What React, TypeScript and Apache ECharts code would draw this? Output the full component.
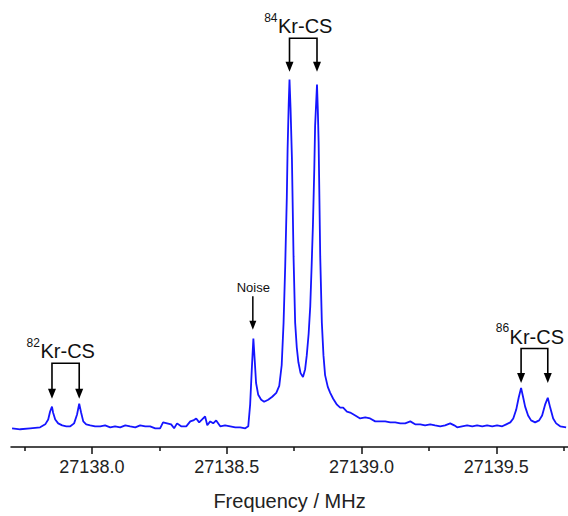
import React, { useEffect, useRef } from "react";
import * as echarts from "echarts";

// Spectrum (frequency in MHz, intensity in arbitrary units)
const freqMHz = [
  27137.704, 27137.734, 27137.771, 27137.808, 27137.827, 27137.838, 27137.845, 27137.852, 27137.856, 27137.864,
  27137.875, 27137.89, 27137.905, 27137.92, 27137.934, 27137.945, 27137.953, 27137.96, 27137.968, 27137.979,
  27137.994, 27138.012, 27138.031, 27138.049, 27138.068, 27138.086, 27138.105, 27138.124, 27138.142, 27138.161,
  27138.179, 27138.198, 27138.216, 27138.235, 27138.253, 27138.264, 27138.279, 27138.294, 27138.305, 27138.316,
  27138.331, 27138.35, 27138.365, 27138.376, 27138.387, 27138.398, 27138.409, 27138.42, 27138.428, 27138.439,
  27138.45, 27138.461, 27138.476, 27138.494, 27138.513, 27138.532, 27138.55, 27138.569, 27138.58, 27138.587,
  27138.593, 27138.599, 27138.604, 27138.609, 27138.617, 27138.628, 27138.639, 27138.654, 27138.669, 27138.684,
  27138.695, 27138.704, 27138.711, 27138.717, 27138.723, 27138.726, 27138.73, 27138.733, 27138.737, 27138.742,
  27138.748, 27138.754, 27138.76, 27138.766, 27138.774, 27138.783, 27138.791, 27138.797, 27138.804, 27138.81,
  27138.815, 27138.82, 27138.825, 27138.828, 27138.835, 27138.838, 27138.841, 27138.847, 27138.853, 27138.859,
  27138.865, 27138.875, 27138.884, 27138.895, 27138.909, 27138.921, 27138.932, 27138.946, 27138.958, 27138.977,
  27138.995, 27139.014, 27139.032, 27139.051, 27139.069, 27139.088, 27139.107, 27139.125, 27139.144, 27139.162,
  27139.181, 27139.199, 27139.218, 27139.236, 27139.255, 27139.273, 27139.292, 27139.31, 27139.329, 27139.344,
  27139.355, 27139.373, 27139.392, 27139.411, 27139.429, 27139.448, 27139.466, 27139.485, 27139.503, 27139.522,
  27139.537, 27139.552, 27139.563, 27139.574, 27139.583, 27139.592, 27139.6, 27139.607, 27139.618, 27139.629,
  27139.644, 27139.659, 27139.67, 27139.681, 27139.691, 27139.7, 27139.711, 27139.722, 27139.737, 27139.759,
];
const intensity = [
  19, 18, 19, 20, 23, 28, 36, 41, 35, 28,
  24, 22, 21, 21, 24, 33, 44, 35, 26, 23,
  22, 21, 21, 22, 20, 21, 20, 22, 21, 20,
  22, 21, 21, 19, 19, 25, 24, 23, 19, 24,
  21, 21, 26, 27, 29, 25, 28, 31, 22, 26,
  24, 27, 21, 22, 21, 20, 20, 19, 21, 43,
  78, 110, 88, 65, 53, 48, 46, 48, 51, 55,
  62, 83, 126, 183, 253, 303, 348, 373, 343, 293,
  193, 126, 101, 86, 75, 71, 79, 93, 115, 143,
  183, 226, 283, 326, 368, 343, 310, 193, 126, 93,
  73, 61, 55, 49, 43, 40, 40, 36, 35, 32,
  29, 30, 29, 26, 26, 26, 25, 25, 24, 24,
  26, 23, 23, 22, 23, 22, 21, 22, 24, 22,
  20, 21, 22, 21, 22, 21, 22, 21, 22, 21,
  23, 25, 29, 38, 50, 60, 50, 41, 32, 27,
  25, 27, 32, 43, 50, 40, 29, 24, 21, 20,
];

const xMin = 27137.7;
const xMax = 27139.766;
const majorTicks = [27138.0, 27138.5, 27139.0, 27139.5];
const minorTicks = [27137.75, 27138.25, 27138.75, 27139.25, 27139.75];

// Isotopologue doublet annotations
const groupMass = ["82", "84", "86"];
const groupName = ["Kr-CS", "Kr-CS", "Kr-CS"];
const groupLeftPeak = [27137.852, 27138.733, 27139.592];
const groupRightPeak = [27137.953, 27138.835, 27139.691];
const groupBracketLevel = [85, 415, 100];
const groupArrowTipLevel = [49, 381, 65];

// Noise annotation
const noiseLabel = "Noise";
const noiseFreq = 27138.597;
const noiseShaftTopLevel = 153;
const noiseArrowTipLevel = 119;

const FONT = "'Liberation Sans', Arial, Helvetica, sans-serif";

export default function App() {
  const ref = useRef<HTMLDivElement>(null);

  useEffect(() => {
    if (!ref.current) return;
    const chart = echarts.init(ref.current, null, { renderer: "svg" });
    const axisColor = "#111";
    chart.setOption({
      animation: false,
      grid: { left: 11, right: 0, top: 53, bottom: 63 },
      xAxis: [
        {
          type: "value",
          min: xMin,
          max: xMax,
          name: "Frequency / MHz",
          nameLocation: "middle",
          nameGap: 44,
          nameTextStyle: { fontSize: 20, color: "#222", fontFamily: FONT },
          axisLine: { show: true, onZero: false, lineStyle: { color: axisColor, width: 1.5 } },
          axisTick: { show: true, length: 7, customValues: majorTicks, lineStyle: { color: axisColor, width: 1.5 } },
          axisLabel: {
            customValues: majorTicks,
            formatter: (v: number) => v.toFixed(1),
            fontSize: 18,
            color: "#222",
            margin: 11,
            fontFamily: FONT,
          },
          splitLine: { show: false },
        },
        {
          type: "value",
          min: xMin,
          max: xMax,
          position: "bottom",
          axisLine: { show: false },
          axisTick: { show: true, length: 4, customValues: minorTicks, lineStyle: { color: axisColor, width: 1.5 } },
          axisLabel: { show: false },
          splitLine: { show: false },
        },
      ],
      yAxis: { type: "value", min: 0, max: 400, show: false },
      series: [
        {
          type: "line",
          xAxisIndex: 0,
          data: freqMHz.map((f, i) => [f, intensity[i]]),
          showSymbol: false,
          clip: false,
          lineStyle: { color: "#1515ff", width: 1.8 },
        },
      ],
    });

    const px = (f: number, v: number) =>
      chart.convertToPixel({ xAxisIndex: 0, yAxisIndex: 0 }, [f, v]) as number[];

    const elements: any[] = [];
    const black = "#000";
    const arrowH = 10;
    const arrowHalfW = 4;
    const arrowHead = (x: number, tipY: number, h: number, hw: number) => ({
      type: "polygon",
      shape: { points: [[x - hw, tipY - h], [x + hw, tipY - h], [x, tipY]] },
      style: { fill: black },
      silent: true,
    });

    groupMass.forEach((mass, i) => {
      const l = px(groupLeftPeak[i], groupBracketLevel[i]);
      const r = px(groupRightPeak[i], groupBracketLevel[i]);
      const lt = px(groupLeftPeak[i], groupArrowTipLevel[i]);
      const rt = px(groupRightPeak[i], groupArrowTipLevel[i]);
      elements.push({
        type: "polyline",
        shape: { points: [[l[0], lt[1] - arrowH + 1], [l[0], l[1]], [r[0], r[1]], [r[0], rt[1] - arrowH + 1]] },
        style: { stroke: black, lineWidth: 1.6, fill: null },
        silent: true,
      });
      elements.push(arrowHead(l[0], lt[1], arrowH, arrowHalfW));
      elements.push(arrowHead(r[0], rt[1], arrowH, arrowHalfW));
      elements.push({
        type: "text",
        silent: true,
        style: {
          text: mass,
          x: l[0] - 12,
          y: l[1] - 20.5,
          fill: "#111",
          fontSize: 12,
          fontFamily: FONT,
          align: "right",
          textAlign: "right",
          verticalAlign: "middle",
          textVerticalAlign: "middle",
        },
      });
      elements.push({
        type: "text",
        silent: true,
        style: {
          text: groupName[i],
          x: l[0] - 11.5,
          y: l[1] - 12,
          fill: "#111",
          fontSize: 20,
          fontFamily: FONT,
          align: "left",
          textAlign: "left",
          verticalAlign: "middle",
          textVerticalAlign: "middle",
        },
      });
    });

    const nTop = px(noiseFreq, noiseShaftTopLevel);
    const nTip = px(noiseFreq, noiseArrowTipLevel);
    elements.push({
      type: "line",
      shape: { x1: nTop[0], y1: nTop[1], x2: nTip[0], y2: nTip[1] - 8 },
      style: { stroke: black, lineWidth: 1.5 },
      silent: true,
    });
    elements.push(arrowHead(nTip[0], nTip[1], 9, 3.5));
    elements.push({
      type: "text",
      silent: true,
      style: {
        text: noiseLabel,
        x: nTop[0] + 0.5,
        y: nTop[1] - 8.5,
        fill: "#111",
        fontSize: 13,
        fontFamily: FONT,
        align: "center",
        textAlign: "center",
        verticalAlign: "middle",
        textVerticalAlign: "middle",
      },
    });

    chart.setOption({ graphic: { elements } });

    return () => chart.dispose();
  }, []);

  return (
    <div
      ref={ref}
      style={{ position: "absolute", left: 0, top: 0, width: 568, height: 516 }}
    />
  );
}
